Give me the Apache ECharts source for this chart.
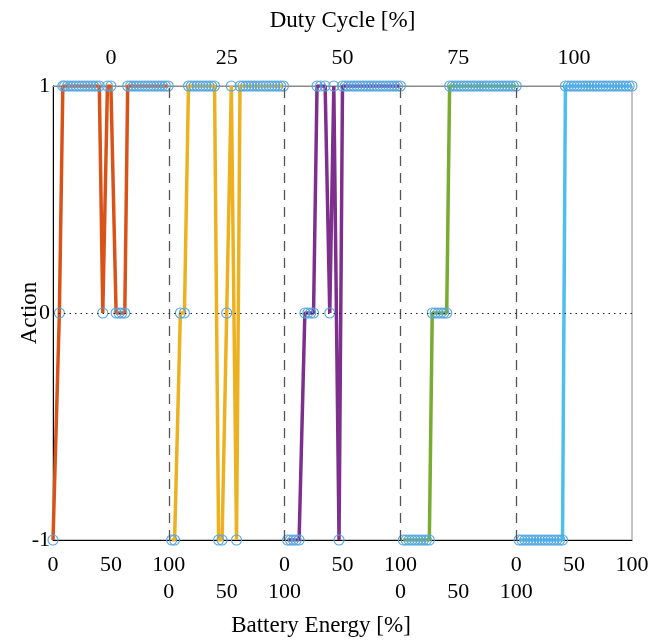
<!DOCTYPE html>
<html>
<head>
<meta charset="utf-8">
<script src="https://cdn.jsdelivr.net/npm/echarts@6/dist/echarts.min.js"></script>
<style>html,body{margin:0;padding:0;background:#fff}#c{width:662px;height:640px}</style>
</head>
<body>
<div id="c"></div>
<script>
// Duty cycle panels (top axis labels)
const dutyCycles = [0, 25, 50, 75, 100];
const panelBounds = [100, 200, 300, 400];
const yTicks = [-1, 0, 1];

// Battery energy [%] and action per duty cycle
const energy0 = [0,5.5,8.5,10,12.5,15,17.5,20,22.5,25,27.5,30,32.5,35,37.5,40,43,47,50,54.5,57,59.5,62,64.5,67,69.5,72,74.5,77,79.5,82,84.5,87,89.5,92,94.5,97,99.5];
const action0 = [-1,0,1,1,1,1,1,1,1,1,1,1,1,1,1,1,0,1,1,0,0,0,0,1,1,1,1,1,1,1,1,1,1,1,1,1,1,1];

const energy25 = [2.5,5,10,13.5,17,19.5,22,24.5,27,29.5,32,34.5,37,39.5,43,46,50,54,58.5,61.5,64,66.5,69,71.5,74,76.5,79,81.5,84,86.5,89,91.5,94,96.5,99];
const action25 = [-1,-1,0,0,1,1,1,1,1,1,1,1,1,1,-1,-1,0,1,-1,1,1,1,1,1,1,1,1,1,1,1,1,1,1,1,1];

const energy50 = [2.5,5,7.5,10,12.5,17.5,20,22.5,25,28,31,35,39,42.5,47,50,52.5,55,57.5,60,62.5,65,67.5,70,72.5,75,77.5,80,82.5,85,87.5,90,92.5,95,97.5,100];
const action50 = [-1,-1,-1,-1,-1,0,0,0,0,1,1,1,0,1,-1,1,1,1,1,1,1,1,1,1,1,1,1,1,1,1,1,1,1,1,1,1];

const energy75 = [2.5,5,7.5,10,12.5,15,17.5,20,22.5,25,27.5,30,32.5,35,37.5,40,42.5,45,47.5,50,52.5,55,57.5,60,62.5,65,67.5,70,72.5,75,77.5,80,82.5,85,87.5,90,92.5,95,97.5,100];
const action75 = [-1,-1,-1,-1,-1,-1,-1,-1,-1,-1,0,0,0,0,0,0,1,1,1,1,1,1,1,1,1,1,1,1,1,1,1,1,1,1,1,1,1,1,1,1];

const energy100 = [2.5,5,7.5,10,12.5,15,17.5,20,22.5,25,27.5,30,32.5,35,37.5,40,42.5,45,47.5,50,52.5,55,57.5,60,62.5,65,67.5,70,72.5,75,77.5,80,82.5,85,87.5,90,92.5,95,97.5,100];
const action100 = [-1,-1,-1,-1,-1,-1,-1,-1,-1,-1,-1,-1,-1,-1,-1,-1,1,1,1,1,1,1,1,1,1,1,1,1,1,1,1,1,1,1,1,1,1,1,1,1];

const energies = [energy0, energy25, energy50, energy75, energy100];
const actions = [action0, action25, action50, action75, action100];
const lineColors = ['#D95319', '#EDB120', '#7E2F8E', '#77AC30', '#4DBEEE'];

const FONT = "'Liberation Serif', 'DejaVu Serif', serif";
const TICK = 22, TITLE = 23;
const chart = echarts.init(document.getElementById('c'), null, {renderer: 'canvas'});

const series = energies.map((E, p) => ({
  type: 'line',
  name: 'Duty ' + dutyCycles[p],
  data: E.map((e, i) => [p * 100 + e, actions[p][i]]),
  xAxisIndex: 0,
  symbol: 'circle',
  symbolSize: 10,
  showAllSymbol: true,
  lineStyle: {color: lineColors[p], width: 3.5},
  itemStyle: {color: 'rgba(0,0,0,0)', borderColor: '#55A6E0', borderWidth: 1.1},
  z: 3,
  animation: false
}));

series.push({
  type: 'line', data: [], xAxisIndex: 0, z: 1, silent: true,
  markLine: {
    silent: true, symbol: 'none', animation: false,
    label: {show: false},
    lineStyle: {color: '#555', width: 1.3, type: [10, 7]},
    data: panelBounds.map(v => ({xAxis: v}))
  }
});
series.push({
  type: 'line', data: [], xAxisIndex: 0, z: 1, silent: true,
  markLine: {
    silent: true, symbol: 'none', animation: false,
    label: {show: false},
    lineStyle: {color: '#222', width: 1, type: [1.5, 4]},
    data: [{yAxis: 0}]
  }
});

const row1 = v => {
  const p = Math.floor(v / 100);
  if (v === 100 || v === 300 || v === 500) return '100';
  if (p === 0 || p === 2 || p === 4) return String(v - p * 100);
  return '';
};
const row2 = v => {
  if (v >= 100 && v <= 200) return String(v - 100);
  if (v >= 300 && v <= 400) return String(v - 300);
  return '';
};

chart.setOption({
  animation: false,
  grid: {left: 53, right: 30, top: 86, bottom: 100, show: true, borderColor: '#8a8a8a', borderWidth: 1, containLabel: false, outerBoundsMode: 'none'},
  xAxis: [
    {
      type: 'value', position: 'bottom', min: 0, max: 500, interval: 50,
      axisLine: {show: true, onZero: false, lineStyle: {color: '#000', width: 1}},
      axisTick: {show: false}, splitLine: {show: false},
      axisLabel: {show: true, formatter: row1, margin: 14, color: '#000', fontFamily: FONT, fontSize: TICK, showMinLabel: true, showMaxLabel: true}
    },
    {
      type: 'value', position: 'bottom', offset: 27, min: 0, max: 500, interval: 50,
      axisLine: {show: false, onZero: false}, axisTick: {show: false}, splitLine: {show: false},
      axisLabel: {show: true, formatter: row2, margin: 14, color: '#000', fontFamily: FONT, fontSize: TICK, showMinLabel: true, showMaxLabel: true}
    },
    {
      type: 'value', position: 'top', min: 0, max: 500, interval: 50,
      axisLine: {show: true, onZero: false, lineStyle: {color: '#8a8a8a', width: 1}},
      axisTick: {show: false}, splitLine: {show: false},
      name: 'Duty Cycle [%]', nameLocation: 'middle', nameGap: 54,
      nameTextStyle: {color: '#000', fontFamily: FONT, fontSize: TITLE},
      axisLabel: {
        show: true, margin: 17, color: '#000', fontFamily: FONT, fontSize: TICK,
        formatter: v => (v % 100 === 50) ? String(dutyCycles[Math.floor(v / 100)]) : ''
      }
    }
  ],
  yAxis: {
    type: 'value', min: -1, max: 1, interval: 1,
    axisLine: {show: true, onZero: false, lineStyle: {color: '#000', width: 1}},
    axisTick: {show: false}, splitLine: {show: false},
    axisLabel: {margin: 3, color: '#000', fontFamily: FONT, fontSize: TICK, formatter: v => yTicks.includes(v) ? String(v) : ''},
    name: 'Action', nameLocation: 'middle', nameGap: 12, nameRotate: 90, nameMoveOverlap: false,
    nameTextStyle: {color: '#000', fontFamily: FONT, fontSize: TITLE}
  },
  graphic: [{
    type: 'text', x: 321, y: 626,
    style: {text: 'Battery Energy [%]', fill: '#000', font: TITLE + 'px ' + FONT, textAlign: 'center', textVerticalAlign: 'middle'}
  }],
  series: series
});
</script>
</body>
</html>
